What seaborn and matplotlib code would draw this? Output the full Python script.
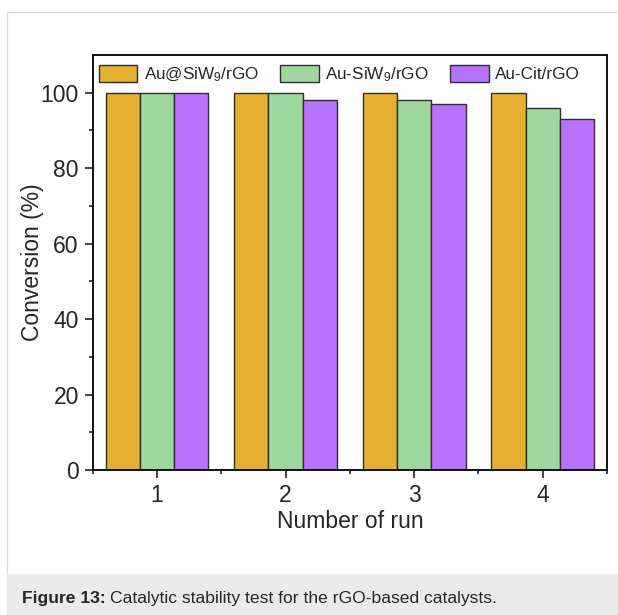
import matplotlib
matplotlib.use("Agg")
import matplotlib.pyplot as plt
from matplotlib.patches import Rectangle
from matplotlib.ticker import FixedLocator
import seaborn as sns
import pandas as pd

runs = ["1", "2", "3", "4"]
catalysts = ["Au@SiW$_9$/rGO", "Au-SiW$_9$/rGO", "Au-Cit/rGO"]
au_siw9_core = [100, 100, 100, 100]
au_siw9 = [100, 100, 98, 96]
au_cit = [100, 98, 97, 93]
colors = ["#E5AF2F", "#9FD89F", "#B872FE"]

sns.set_style("white")
plt.rcParams["font.family"] = ["Liberation Sans", "DejaVu Sans"]
plt.rcParams["mathtext.fontset"] = "custom"
plt.rcParams["mathtext.rm"] = "Liberation Sans"
plt.rcParams["mathtext.it"] = "Liberation Sans"

df = pd.DataFrame({
    "run": runs * 3,
    "catalyst": [catalysts[0]] * 4 + [catalysts[1]] * 4 + [catalysts[2]] * 4,
    "conversion": au_siw9_core + au_siw9 + au_cit,
})

fig = plt.figure(figsize=(6.18, 6.15), dpi=100)
W, H = 618, 615

# card outline and caption band, kept behind the axes
fig.patches.append(Rectangle((6.5 / W, -0.01), 2.0, 1 - 12.5 / H + 0.01,
                             transform=fig.transFigure, facecolor="none",
                             edgecolor="#DCDCDC", linewidth=1.0, zorder=-10))
fig.patches.append(Rectangle((7.2 / W, 0), 1.0, (615 - 574) / H,
                             transform=fig.transFigure, facecolor="#EBEBEB",
                             edgecolor="none", zorder=-9))

ax = fig.add_axes([92.7 / W, 1 - 470 / H, (607 - 92.7) / W, (470 - 55) / H])
sns.barplot(data=df, x="run", y="conversion", hue="catalyst", order=runs,
            hue_order=catalysts, palette=colors, width=0.8, gap=0,
            edgecolor="#2E2E2E", linewidth=1.0, saturation=1, ax=ax)

ax.set_xlim(-0.5, 3.5)
ax.set_ylim(0, 110)
ax.set_yticks([0, 20, 40, 60, 80, 100])
ax.yaxis.set_minor_locator(FixedLocator([10, 30, 50, 70, 90]))
ax.xaxis.set_minor_locator(FixedLocator([-0.5, 0.5, 1.5, 2.5, 3.5]))
ax.tick_params(axis="both", which="major", direction="out", length=5.8, width=1.2,
               labelsize=16.5, color="#222222", pad=4.2, bottom=True, left=True)
ax.tick_params(axis="both", which="minor", direction="out", length=3, width=1.2,
               color="#222222", bottom=True, left=True)
for s in ax.spines.values():
    s.set_visible(True)
    s.set_color("#111111")
    s.set_linewidth(1.4)

ax.set_xlabel("Number of run", fontsize=16.5, labelpad=2)
ax.set_ylabel("Conversion (%)", fontsize=16.5)
ax.yaxis.set_label_coords(-0.095, 0.5)

ax.legend(loc="upper left", bbox_to_anchor=(0.002, 0.988), ncol=3, frameon=False,
          fontsize=12.3, handlelength=2.25, handleheight=1.1,
          handletextpad=0.37, columnspacing=1.26, borderaxespad=0.0,
          borderpad=0.3)

cap = fig.text(22 / W, 1 - 598 / H, "Figure 13:", fontsize=12.6, va="center",
               ha="left", fontweight="bold")
fig.canvas.draw()
bb = cap.get_window_extent()
fig.text((bb.x1 + 4) / W, 1 - 598 / H,
         "Catalytic stability test for the rGO-based catalysts.",
         fontsize=12.6, va="center", ha="left")

fig.savefig("out.png", dpi=100)
